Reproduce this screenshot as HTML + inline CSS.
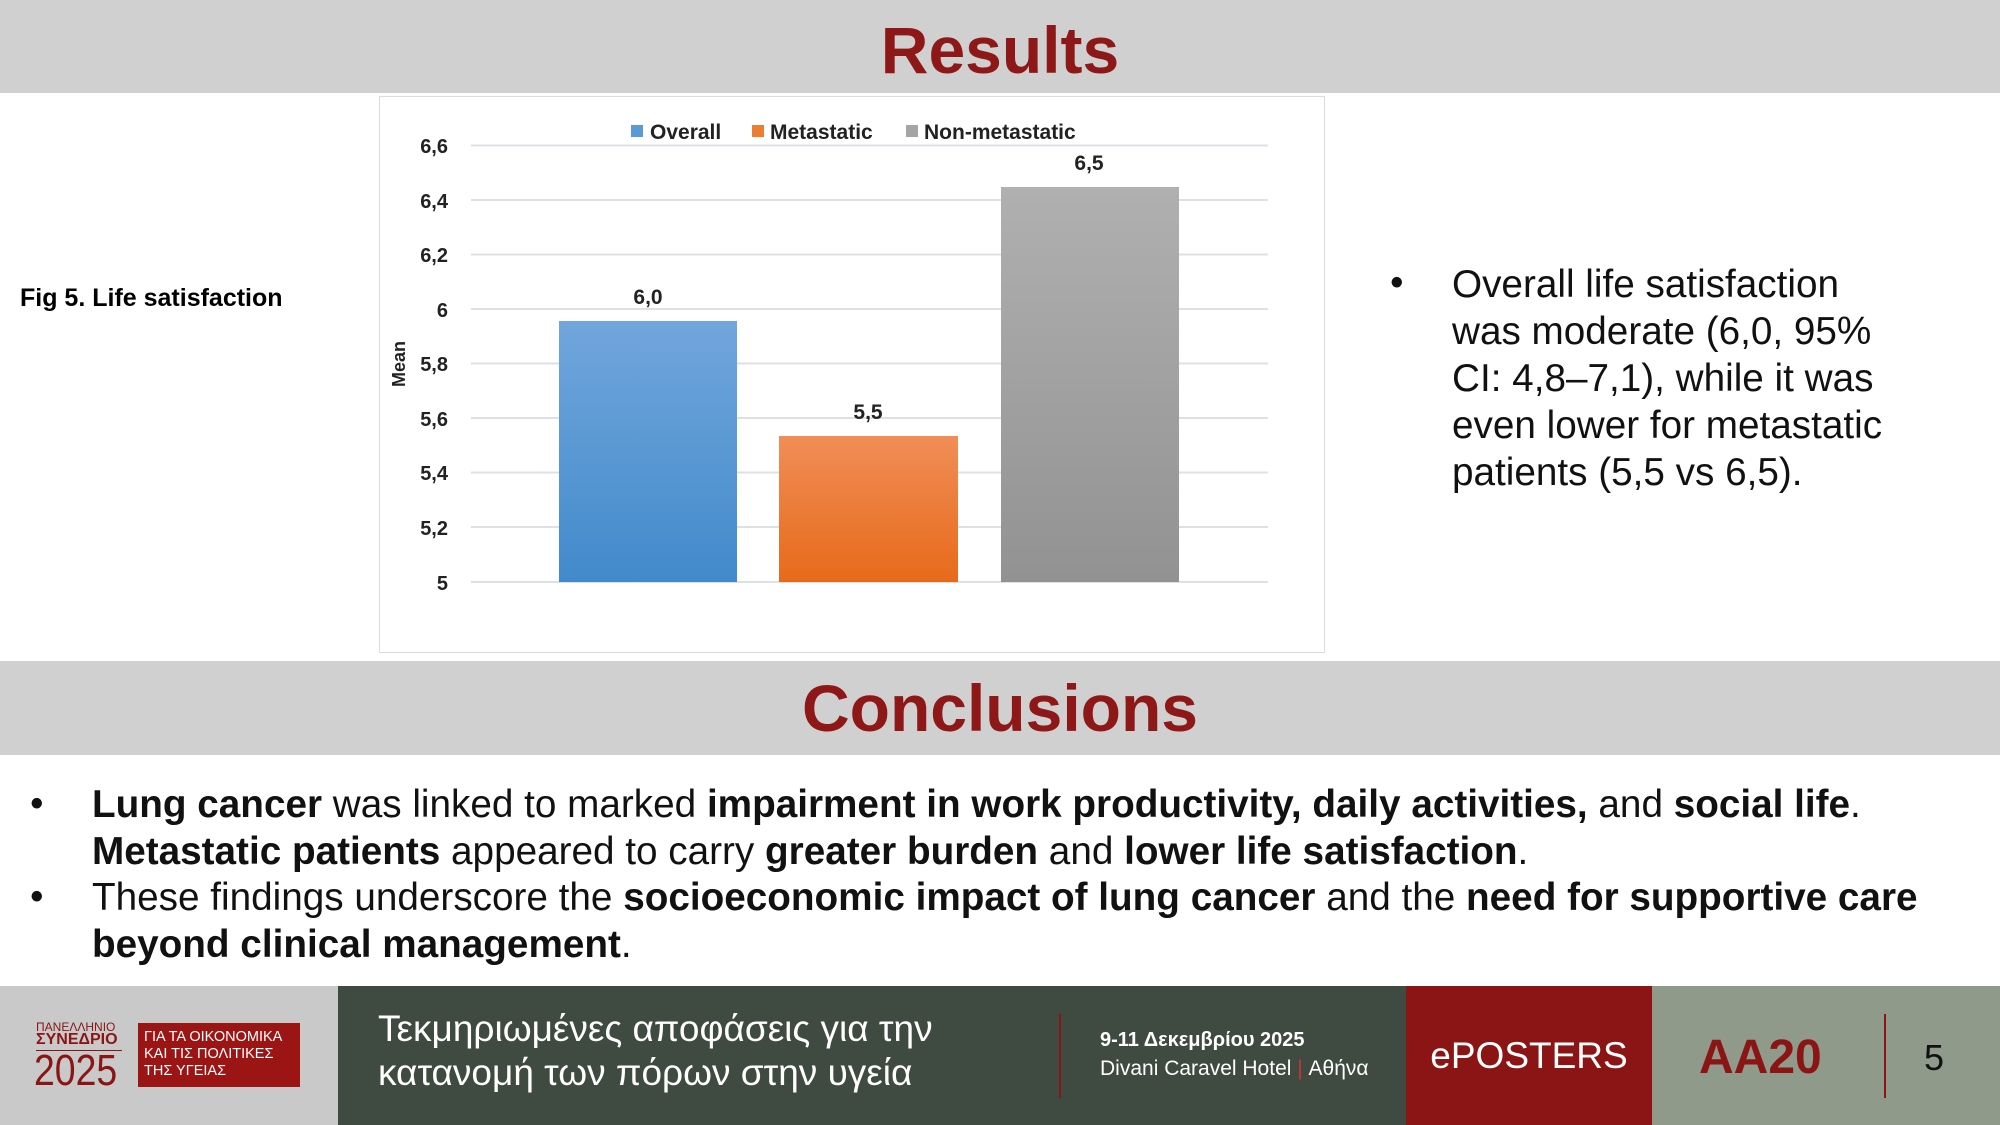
<!DOCTYPE html>
<html><head><meta charset="utf-8"><style>
body{margin:0;width:2000px;height:1125px;position:relative;background:#fff;font-family:"Liberation Sans","DejaVu Sans",sans-serif;overflow:hidden}
.a{position:absolute;white-space:nowrap}
.band{position:absolute;left:0;width:2000px;background:#d0d0d0}
.title{position:absolute;left:0;width:2000px;text-align:center;color:#8e1717;font-weight:bold;font-size:66px}
.c{font-size:38.7px;color:#111}
</style></head><body>
<div class="band" style="top:0;height:93px"></div>
<div class="title" style="top:12px">Results</div>

<div class="a" style="left:20px;top:284px;font-size:25px;font-weight:bold">Fig 5. Life satisfaction</div>

<div class="a" style="left:379px;top:96px;width:944px;height:555px;border:1px solid #dcdcdc"></div>
<svg class="a" style="left:0;top:0" width="2000" height="700">
<defs>
<linearGradient id="b" x1="0" y1="0" x2="0" y2="1"><stop offset="0" stop-color="#71a6dc"/><stop offset="1" stop-color="#428acb"/></linearGradient>
<linearGradient id="o" x1="0" y1="0" x2="0" y2="1"><stop offset="0" stop-color="#f08e57"/><stop offset="1" stop-color="#e76a1a"/></linearGradient>
<linearGradient id="g" x1="0" y1="0" x2="0" y2="1"><stop offset="0" stop-color="#b0b0b0"/><stop offset="1" stop-color="#929292"/></linearGradient>
</defs>
<g stroke="#dde1e6" stroke-width="2">
<line x1="471" x2="1268" y1="145.5" y2="145.5"/><line x1="471" x2="1268" y1="200" y2="200"/>
<line x1="471" x2="1268" y1="254.5" y2="254.5"/><line x1="471" x2="1268" y1="309" y2="309"/>
<line x1="471" x2="1268" y1="363.5" y2="363.5"/><line x1="471" x2="1268" y1="418" y2="418"/>
<line x1="471" x2="1268" y1="472.5" y2="472.5"/><line x1="471" x2="1268" y1="527" y2="527"/>
<line x1="471" x2="1268" y1="582" y2="582"/></g>
<rect x="559" y="321" width="178" height="261" fill="url(#b)"/>
<rect x="779" y="436" width="179" height="146" fill="url(#o)"/>
<rect x="1001" y="187" width="178" height="395" fill="url(#g)"/>
<rect x="631" y="125" width="12" height="12" fill="#5b9bd5"/>
<rect x="752" y="125" width="12" height="12" fill="#ed7d31"/>
<rect x="906" y="125" width="12" height="12" fill="#a5a5a5"/>
<g font-family="Liberation Sans" font-weight="bold" font-size="21" fill="#222">
<text x="650" y="139">Overall</text><text x="770" y="139">Metastatic</text><text x="924" y="139">Non-metastatic</text>
<text x="648" y="304" text-anchor="middle">6,0</text><text x="868" y="419" text-anchor="middle">5,5</text><text x="1089" y="170" text-anchor="middle">6,5</text>
<text transform="translate(405,364) rotate(-90)" text-anchor="middle" font-size="18">Mean</text>
</g>
<g font-family="Liberation Sans" font-weight="bold" font-size="20" fill="#222" text-anchor="end">
<text x="448" y="153">6,6</text><text x="448" y="208">6,4</text><text x="448" y="262">6,2</text><text x="448" y="317">6</text>
<text x="448" y="371">5,8</text><text x="448" y="426">5,6</text><text x="448" y="480">5,4</text><text x="448" y="535">5,2</text><text x="448" y="590">5</text>
</g>
</svg>

<div class="a c" style="left:1390px;top:261px">•</div>
<div class="a c" style="left:1452px;top:261px;line-height:47px">Overall life satisfaction<br>was moderate (6,0, 95%<br>CI: 4,8–7,1), while it was<br>even lower for metastatic<br>patients (5,5 vs 6,5).</div>

<div class="band" style="top:661px;height:94px"></div>
<div class="title" style="top:670px">Conclusions</div>

<div class="a c" style="left:30px;top:782px">•</div>
<div class="a c" style="left:30px;top:875px">•</div>
<div class="a c" style="left:92px;top:782px;line-height:46.5px"><b>Lung cancer</b> was linked to marked <b>impairment in work productivity, daily activities,</b> and <b>social life</b>.<br><b>Metastatic patients</b> appeared to carry <b>greater burden</b> and <b>lower life satisfaction</b>.<br>These findings underscore the <b>socioeconomic impact of lung cancer</b> and the <b>need for supportive care</b><br><b>beyond clinical management</b>.</div>

<div class="a" style="left:0;top:986px;width:338px;height:139px;background:#c9c9c9"></div>
<div class="a" style="left:338px;top:986px;width:1068px;height:139px;background:#3f4a40"></div>
<div class="a" style="left:1406px;top:986px;width:246px;height:139px;background:#8b1414"></div>
<div class="a" style="left:1652px;top:986px;width:348px;height:139px;background:#8f9a8a"></div>
<div class="a" style="left:1059px;top:1014px;width:2px;height:84px;background:#8b1414"></div>
<div class="a" style="left:1884px;top:1014px;width:2px;height:84px;background:#8b1414"></div>

<div class="a" style="left:36px;top:1020px;font-size:12px;color:#8b1414">ΠΑΝΕΛΛΗΝΙΟ</div>
<div class="a" style="left:36px;top:1031px;font-size:16px;color:#8b1414;font-weight:bold">ΣΥΝΕΔΡΙΟ</div>
<div class="a" style="left:36px;top:1050px;width:86px;height:1px;background:#8b1414"></div>
<div class="a" style="left:34px;top:1046px;font-size:44px;color:#8b1414;transform:scaleX(.85);transform-origin:left">2025</div>
<div class="a" style="left:138px;top:1023px;width:162px;height:64px;background:#9b1515;color:#fff;font-size:14.5px;line-height:17px;padding:6px 0 0 6px;box-sizing:border-box">ΓΙΑ ΤΑ ΟΙΚΟΝΟΜΙΚΑ<br>ΚΑΙ ΤΙΣ ΠΟΛΙΤΙΚΕΣ<br>ΤΗΣ ΥΓΕΙΑΣ</div>

<div class="a" style="left:378px;top:1007px;font-size:37px;color:#fff;line-height:44px">Τεκμηριωμένες αποφάσεις για την<br>κατανομή των πόρων στην υγεία</div>
<div class="a" style="left:1100px;top:1029px;font-size:20px;color:#fff;font-weight:bold">9-11 Δεκεμβρίου 2025</div>
<div class="a" style="left:1100px;top:1057px;font-size:21px;color:#fff">Divani Caravel Hotel <span style="color:#c33">|</span> Αθήνα</div>
<div class="a" style="left:1406px;width:246px;top:1035px;text-align:center;font-size:37px;color:#fff">ePOSTERS</div>
<div class="a" style="left:1699px;top:1030px;font-size:48px;color:#8b1414;font-weight:bold">AA20</div>
<div class="a" style="left:1924px;top:1037px;font-size:36px;color:#111">5</div>
</body></html>
